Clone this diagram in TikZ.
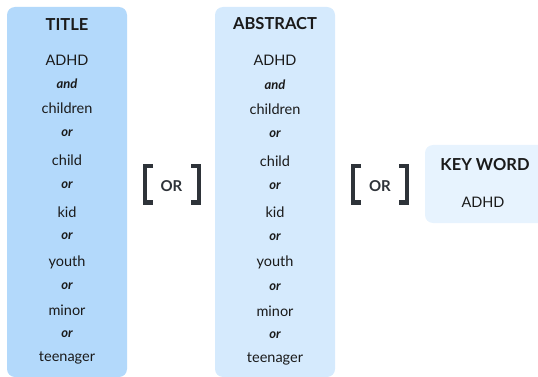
\documentclass[tikz,border=0pt]{standalone}
\usepackage{fontspec}
\setmainfont{Lato}
\definecolor{titlebg}{HTML}{B3D9FB}
\definecolor{absbg}{HTML}{D5EAFD}
\definecolor{keybg}{HTML}{E7F3FE}
\definecolor{txt}{HTML}{1A1A1A}
\definecolor{brk}{HTML}{2E3339}
\tikzset{
  panel/.style={rounded corners=8pt, draw=none},
  term/.style={text=txt, font=\fontsize{14.5}{15}\selectfont, inner sep=0pt, anchor=center},
  conj/.style={text=txt, font=\fontsize{13}{14}\selectfont\bfseries\itshape, inner sep=0pt, anchor=center},
  head/.style={text=txt, font=\fontsize{16.5}{17}\selectfont\bfseries, inner sep=0pt, anchor=center},
  orlbl/.style={text=brk, font=\fontsize{15}{16}\selectfont\bfseries, inner sep=0pt, anchor=center},
  bracket/.style={draw=brk, line width=4.4pt, miter limit=10}
}
\begin{document}
\begin{tikzpicture}[x=1pt,y=-1pt]
\useasboundingbox (0,0) rectangle (538,377);
\begin{scope}
\clip (0,0) rectangle (538,377);
\fill[panel, titlebg] (7,7) rectangle (127,377);
\fill[panel, absbg] (215,7) rectangle (335,377);
\fill[panel, keybg] (425,145) rectangle (560,223);
\end{scope}

% Title column
\node[head] (t0) at (67,25) {TITLE};
\node[term] (t1) at (67,60) {ADHD};
\node[conj] (t2) at (67,84) {and};
\node[term] (t3) at (67,108) {children};
\node[conj] (t4) at (67,133) {or};
\node[term] (t5) at (67,160) {child};
\node[conj] (t6) at (67,185) {or};
\node[term] (t7) at (67,212) {kid};
\node[conj] (t8) at (67,236) {or};
\node[term] (t9) at (67,262) {youth};
\node[conj] (t10) at (67,286) {or};
\node[term] (t11) at (67,310) {minor};
\node[conj] (t12) at (67,334) {or};
\node[term] (t13) at (67,358) {teenager};

% Abstract column
\node[head] (a0) at (275,24) {ABSTRACT};
\node[term] (a1) at (275,60) {ADHD};
\node[conj] (a2) at (275,85) {and};
\node[term] (a3) at (275,109) {children};
\node[conj] (a4) at (275,134) {or};
\node[term] (a5) at (275,161) {child};
\node[conj] (a6) at (275,186) {or};
\node[term] (a7) at (275,212) {kid};
\node[conj] (a8) at (275,237) {or};
\node[term] (a9) at (275,262) {youth};
\node[conj] (a10) at (275,287) {or};
\node[term] (a11) at (275,311) {minor};
\node[conj] (a12) at (275,335) {or};
\node[term] (a13) at (275,359) {teenager};

% Keyword box
\node[head] (k0) at (485,165) {KEY WORD};
\node[term] (k1) at (483,202) {ADHD};

% Brackets with OR
\draw[bracket] (153,166) -- (145.2,166) -- (145.2,202.5) -- (153,202.5);
\draw[bracket] (191,166) -- (198.8,166) -- (198.8,202.5) -- (191,202.5);
\node[orlbl] (or1) at (171.5,186) {OR};

\draw[bracket] (361,166) -- (353.2,166) -- (353.2,202.5) -- (361,202.5);
\draw[bracket] (399,166) -- (406.8,166) -- (406.8,202.5) -- (399,202.5);
\node[orlbl] (or2) at (380,186) {OR};
\end{tikzpicture}
\end{document}
